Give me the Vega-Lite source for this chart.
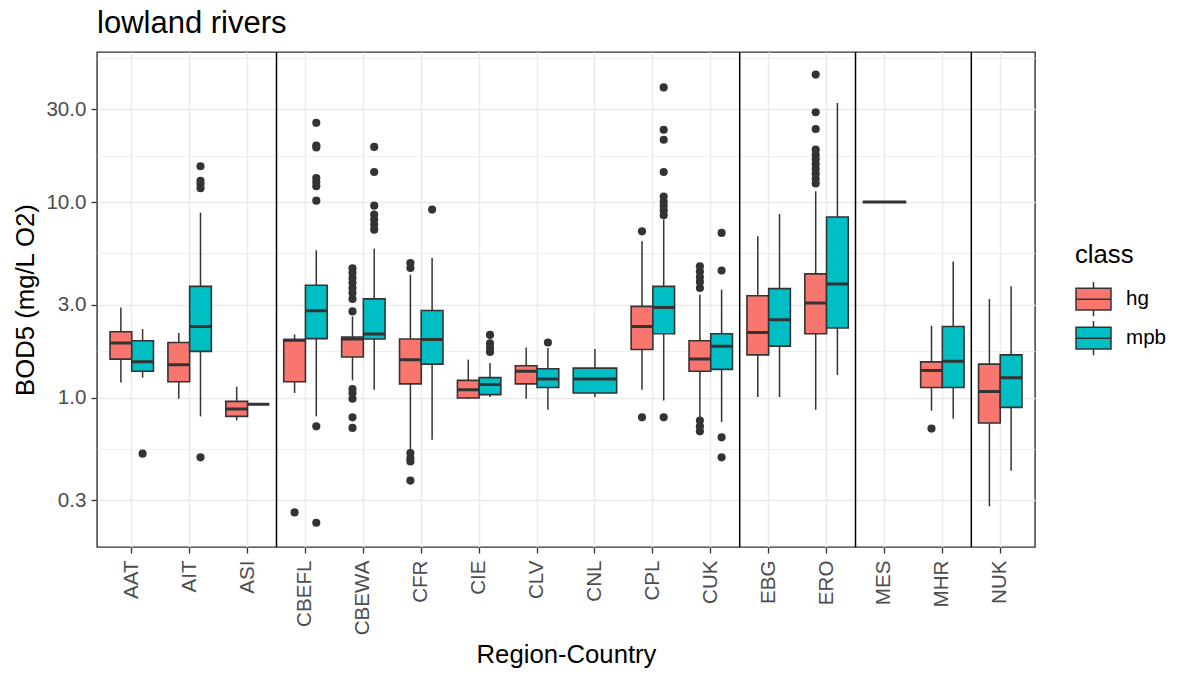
{
  "$schema": "https://vega.github.io/schema/vega-lite/v6.json",
  "width": 938,
  "height": 495,
  "autosize": "none",
  "padding": {"left": 97, "top": 52, "right": 144, "bottom": 126},
  "background": "white",
  "title": {
    "text": "lowland rivers",
    "anchor": "start",
    "frame": "group",
    "fontSize": 31,
    "fontWeight": "normal",
    "color": "#000000",
    "offset": 11
  },
  "config": {
    "font": "Liberation Sans",
    "view": {"stroke": "#333333", "strokeWidth": 1.4},
    "axis": {
      "domain": false,
      "tickColor": "#333333",
      "tickWidth": 1.3,
      "tickSize": 6,
      "labelColor": "#4D4D4D",
      "labelFontSize": 20.6,
      "titleFontSize": 25.7,
      "titleFontWeight": "normal",
      "titleColor": "#000000",
      "gridColor": "#EBEBEB",
      "gridWidth": 1.6
    }
  },
  "datasets": {
    "boxes": [
      {"region": "AAT", "class": "hg", "lower": 1.20, "q1": 1.58, "median": 1.91, "q3": 2.18, "upper": 2.90},
      {"region": "AAT", "class": "mpb", "lower": 1.27, "q1": 1.37, "median": 1.53, "q3": 1.96, "upper": 2.25},
      {"region": "AIT", "class": "hg", "lower": 0.99, "q1": 1.21, "median": 1.48, "q3": 1.92, "upper": 2.15},
      {"region": "AIT", "class": "mpb", "lower": 0.805, "q1": 1.73, "median": 2.32, "q3": 3.72, "upper": 8.86},
      {"region": "ASI", "class": "hg", "lower": 0.768, "q1": 0.805, "median": 0.879, "q3": 0.96, "upper": 1.14},
      {"region": "ASI", "class": "mpb", "lower": 0.928, "q1": 0.928, "median": 0.928, "q3": 0.928, "upper": 0.928},
      {"region": "CBEFL", "class": "hg", "lower": 1.06, "q1": 1.21, "median": 1.97, "q3": 1.99, "upper": 2.11},
      {"region": "CBEFL", "class": "mpb", "lower": 0.805, "q1": 2.01, "median": 2.79, "q3": 3.77, "upper": 5.69},
      {"region": "CBEWA", "class": "hg", "lower": 1.23, "q1": 1.62, "median": 2.00, "q3": 2.05, "upper": 2.61},
      {"region": "CBEWA", "class": "mpb", "lower": 1.10, "q1": 2.00, "median": 2.12, "q3": 3.21, "upper": 5.80},
      {"region": "CFR", "class": "hg", "lower": 0.533, "q1": 1.18, "median": 1.57, "q3": 2.00, "upper": 4.27},
      {"region": "CFR", "class": "mpb", "lower": 0.612, "q1": 1.49, "median": 1.99, "q3": 2.80, "upper": 5.20},
      {"region": "CIE", "class": "hg", "lower": 0.99, "q1": 1.00, "median": 1.10, "q3": 1.23, "upper": 1.57},
      {"region": "CIE", "class": "mpb", "lower": 1.01, "q1": 1.04, "median": 1.17, "q3": 1.27, "upper": 1.51},
      {"region": "CLV", "class": "hg", "lower": 0.99, "q1": 1.18, "median": 1.37, "q3": 1.46, "upper": 1.81},
      {"region": "CLV", "class": "mpb", "lower": 0.87, "q1": 1.13, "median": 1.25, "q3": 1.41, "upper": 1.80},
      {"region": "CNL", "class": "mpb", "lower": 1.01, "q1": 1.06, "median": 1.25, "q3": 1.42, "upper": 1.78},
      {"region": "CPL", "class": "hg", "lower": 1.10, "q1": 1.77, "median": 2.32, "q3": 2.94, "upper": 6.32},
      {"region": "CPL", "class": "mpb", "lower": 0.97, "q1": 2.13, "median": 2.90, "q3": 3.72, "upper": 8.16},
      {"region": "CUK", "class": "hg", "lower": 0.784, "q1": 1.37, "median": 1.58, "q3": 1.96, "upper": 3.37},
      {"region": "CUK", "class": "mpb", "lower": 0.754, "q1": 1.40, "median": 1.84, "q3": 2.13, "upper": 3.58},
      {"region": "EBG", "class": "hg", "lower": 1.01, "q1": 1.66, "median": 2.16, "q3": 3.33, "upper": 6.70},
      {"region": "EBG", "class": "mpb", "lower": 1.01, "q1": 1.84, "median": 2.51, "q3": 3.62, "upper": 8.72},
      {"region": "ERO", "class": "hg", "lower": 0.87, "q1": 2.13, "median": 3.06, "q3": 4.31, "upper": 11.4},
      {"region": "ERO", "class": "mpb", "lower": 1.31, "q1": 2.28, "median": 3.83, "q3": 8.42, "upper": 32.2},
      {"region": "MES", "class": "hg", "lower": 10.05, "q1": 10.05, "median": 10.05, "q3": 10.05, "upper": 10.05},
      {"region": "MHR", "class": "hg", "lower": 0.86, "q1": 1.13, "median": 1.38, "q3": 1.53, "upper": 2.34},
      {"region": "MHR", "class": "mpb", "lower": 0.784, "q1": 1.13, "median": 1.54, "q3": 2.32, "upper": 4.99},
      {"region": "NUK", "class": "hg", "lower": 0.279, "q1": 0.745, "median": 1.08, "q3": 1.49, "upper": 3.21},
      {"region": "NUK", "class": "mpb", "lower": 0.425, "q1": 0.895, "median": 1.27, "q3": 1.66, "upper": 3.72}
    ],
    "outliers": [
      {"region": "AAT", "class": "mpb", "value": 0.519},
      {"region": "AIT", "class": "mpb", "value": 15.3},
      {"region": "AIT", "class": "mpb", "value": 12.9},
      {"region": "AIT", "class": "mpb", "value": 12.4},
      {"region": "AIT", "class": "mpb", "value": 11.8},
      {"region": "AIT", "class": "mpb", "value": 0.497},
      {"region": "CBEFL", "class": "hg", "value": 0.26},
      {"region": "CBEFL", "class": "mpb", "value": 25.5},
      {"region": "CBEFL", "class": "mpb", "value": 19.5},
      {"region": "CBEFL", "class": "mpb", "value": 19.1},
      {"region": "CBEFL", "class": "mpb", "value": 13.3},
      {"region": "CBEFL", "class": "mpb", "value": 12.7},
      {"region": "CBEFL", "class": "mpb", "value": 12.1},
      {"region": "CBEFL", "class": "mpb", "value": 10.2},
      {"region": "CBEFL", "class": "mpb", "value": 0.716},
      {"region": "CBEFL", "class": "mpb", "value": 0.230},
      {"region": "CBEWA", "class": "hg", "value": 2.77},
      {"region": "CBEWA", "class": "hg", "value": 4.60},
      {"region": "CBEWA", "class": "hg", "value": 4.36},
      {"region": "CBEWA", "class": "hg", "value": 4.10},
      {"region": "CBEWA", "class": "hg", "value": 3.87},
      {"region": "CBEWA", "class": "hg", "value": 3.65},
      {"region": "CBEWA", "class": "hg", "value": 3.44},
      {"region": "CBEWA", "class": "hg", "value": 3.21},
      {"region": "CBEWA", "class": "hg", "value": 1.11},
      {"region": "CBEWA", "class": "hg", "value": 1.06},
      {"region": "CBEWA", "class": "hg", "value": 0.99},
      {"region": "CBEWA", "class": "hg", "value": 0.796},
      {"region": "CBEWA", "class": "hg", "value": 0.703},
      {"region": "CBEWA", "class": "mpb", "value": 19.2},
      {"region": "CBEWA", "class": "mpb", "value": 14.3},
      {"region": "CBEWA", "class": "mpb", "value": 9.62},
      {"region": "CBEWA", "class": "mpb", "value": 8.65},
      {"region": "CBEWA", "class": "mpb", "value": 8.16},
      {"region": "CBEWA", "class": "mpb", "value": 7.70},
      {"region": "CBEWA", "class": "mpb", "value": 7.25},
      {"region": "CFR", "class": "hg", "value": 4.90},
      {"region": "CFR", "class": "hg", "value": 4.62},
      {"region": "CFR", "class": "hg", "value": 0.523},
      {"region": "CFR", "class": "hg", "value": 0.493},
      {"region": "CFR", "class": "hg", "value": 0.474},
      {"region": "CFR", "class": "hg", "value": 0.378},
      {"region": "CFR", "class": "mpb", "value": 9.18},
      {"region": "CIE", "class": "mpb", "value": 2.10},
      {"region": "CIE", "class": "mpb", "value": 1.90},
      {"region": "CIE", "class": "mpb", "value": 1.80},
      {"region": "CIE", "class": "mpb", "value": 1.72},
      {"region": "CLV", "class": "mpb", "value": 1.92},
      {"region": "CPL", "class": "hg", "value": 7.11},
      {"region": "CPL", "class": "hg", "value": 0.796},
      {"region": "CPL", "class": "mpb", "value": 38.7},
      {"region": "CPL", "class": "mpb", "value": 23.5},
      {"region": "CPL", "class": "mpb", "value": 20.9},
      {"region": "CPL", "class": "mpb", "value": 14.3},
      {"region": "CPL", "class": "mpb", "value": 10.7},
      {"region": "CPL", "class": "mpb", "value": 10.1},
      {"region": "CPL", "class": "mpb", "value": 9.6},
      {"region": "CPL", "class": "mpb", "value": 9.1},
      {"region": "CPL", "class": "mpb", "value": 8.6},
      {"region": "CPL", "class": "mpb", "value": 0.796},
      {"region": "CUK", "class": "hg", "value": 4.71},
      {"region": "CUK", "class": "hg", "value": 4.43},
      {"region": "CUK", "class": "hg", "value": 4.15},
      {"region": "CUK", "class": "hg", "value": 3.92},
      {"region": "CUK", "class": "hg", "value": 3.65},
      {"region": "CUK", "class": "hg", "value": 0.766},
      {"region": "CUK", "class": "hg", "value": 0.716},
      {"region": "CUK", "class": "hg", "value": 0.675},
      {"region": "CUK", "class": "mpb", "value": 6.98},
      {"region": "CUK", "class": "mpb", "value": 4.48},
      {"region": "CUK", "class": "mpb", "value": 0.629},
      {"region": "CUK", "class": "mpb", "value": 0.497},
      {"region": "ERO", "class": "hg", "value": 45.0},
      {"region": "ERO", "class": "hg", "value": 28.9},
      {"region": "ERO", "class": "hg", "value": 23.7},
      {"region": "ERO", "class": "hg", "value": 18.6},
      {"region": "ERO", "class": "hg", "value": 17.5},
      {"region": "ERO", "class": "hg", "value": 16.6},
      {"region": "ERO", "class": "hg", "value": 15.7},
      {"region": "ERO", "class": "hg", "value": 14.8},
      {"region": "ERO", "class": "hg", "value": 14.0},
      {"region": "ERO", "class": "hg", "value": 13.2},
      {"region": "ERO", "class": "hg", "value": 12.5},
      {"region": "MHR", "class": "hg", "value": 0.697}
    ],
    "separators": [
      {"region": "CBEFL"},
      {"region": "EBG"},
      {"region": "MES"},
      {"region": "NUK"}
    ]
  },
  "layer": [
    {
      "data": {"name": "boxes"},
      "transform": [
        {"joinaggregate": [{"op": "count", "as": "n"}], "groupby": ["region"]},
        {"filter": "datum.n == 2"}
      ],
      "mark": {"type": "rule", "color": "#333333", "strokeWidth": 1.5},
      "encoding": {
        "x": {
          "field": "region",
          "type": "nominal",
          "sort": ["AAT", "AIT", "ASI", "CBEFL", "CBEWA", "CFR", "CIE", "CLV", "CNL", "CPL", "CUK", "EBG", "ERO", "MES", "MHR", "NUK"],
          "scale": {"type": "band", "paddingInner": 0, "paddingOuter": 0.1},
          "axis": {
            "title": "Region-Country",
            "labelAngle": -90,
            "grid": true,
            "bandPosition": 0.5,
            "labelPadding": 7,
            "titlePadding": 8
          }
        },
        "xOffset": {
          "field": "class",
          "type": "nominal",
          "scale": {"domain": ["hg", "mpb"], "paddingInner": 0, "paddingOuter": 0.3333}
        },
        "y": {
          "field": "lower",
          "type": "quantitative",
          "scale": {"type": "log", "domain": [0.173, 58.7], "nice": false},
          "axis": {
            "orient": "left",
            "values": [0.5477, 1.7321, 5.4772, 17.3205, 54.7723],
            "grid": true,
            "gridWidth": 0.8,
            "labels": false,
            "ticks": false,
            "domain": false,
            "title": null,
            "minExtent": 0,
            "maxExtent": 0
          }
        },
        "y2": {"field": "upper"}
      }
    },
    {
      "data": {"name": "boxes"},
      "transform": [
        {"joinaggregate": [{"op": "count", "as": "n"}], "groupby": ["region"]},
        {"filter": "datum.n == 2"}
      ],
      "mark": {"type": "bar", "stroke": "#333333", "strokeWidth": 1.6},
      "encoding": {
        "x": {"field": "region", "type": "nominal"},
        "xOffset": {"field": "class", "type": "nominal"},
        "y": {
          "field": "q1",
          "type": "quantitative",
          "axis": {
            "orient": "left",
            "values": [0.3, 1, 3, 10, 30],
            "format": ".1f",
            "title": "BOD5 (mg/L O2)",
            "grid": true,
            "labelPadding": 5,
            "titlePadding": 7
          }
        },
        "y2": {"field": "q3"},
        "color": {
          "field": "class",
          "type": "nominal",
          "scale": {"domain": ["hg", "mpb"], "range": ["#F8766D", "#00BFC4"]},
          "legend": {
            "title": "class",
            "orient": "none",
            "legendX": 978,
            "legendY": 191,
            "symbolType": "M-1,-0.62H1V0.62H-1Z M-1,0H1 M0,-0.62V-0.98 M0,0.62V0.98",
            "symbolSize": 1225,
            "symbolStrokeColor": "#333333",
            "symbolStrokeWidth": 1.5,
            "symbolOpacity": 1,
            "labelFontSize": 20.6,
            "labelColor": "#000000",
            "titleFontSize": 25.7,
            "titleFontWeight": "normal",
            "titleColor": "#000000",
            "labelOffset": 14,
            "rowPadding": -2,
            "titlePadding": 12
          }
        }
      }
    },
    {
      "data": {"name": "boxes"},
      "transform": [
        {"joinaggregate": [{"op": "count", "as": "n"}], "groupby": ["region"]},
        {"filter": "datum.n == 2"}
      ],
      "mark": {"type": "bar", "fill": "transparent", "stroke": "#333333", "strokeWidth": 3},
      "encoding": {
        "x": {"field": "region", "type": "nominal"},
        "xOffset": {"field": "class", "type": "nominal"},
        "y": {"field": "median", "type": "quantitative", "axis": null},
        "y2": {"field": "median"}
      }
    },
    {
      "data": {"name": "boxes"},
      "transform": [
        {"joinaggregate": [{"op": "count", "as": "n"}], "groupby": ["region"]},
        {"filter": "datum.n == 1"}
      ],
      "mark": {"type": "rule", "color": "#333333", "strokeWidth": 1.5},
      "encoding": {
        "x": {"field": "region", "type": "nominal"},
        "y": {"field": "lower", "type": "quantitative", "axis": null},
        "y2": {"field": "upper"}
      }
    },
    {
      "data": {"name": "boxes"},
      "transform": [
        {"joinaggregate": [{"op": "count", "as": "n"}], "groupby": ["region"]},
        {"filter": "datum.n == 1"}
      ],
      "mark": {"type": "bar", "stroke": "#333333", "strokeWidth": 1.6, "width": {"band": 0.75}},
      "encoding": {
        "x": {"field": "region", "type": "nominal"},
        "y": {"field": "q1", "type": "quantitative", "axis": null},
        "y2": {"field": "q3"},
        "color": {"field": "class", "type": "nominal"}
      }
    },
    {
      "data": {"name": "boxes"},
      "transform": [
        {"joinaggregate": [{"op": "count", "as": "n"}], "groupby": ["region"]},
        {"filter": "datum.n == 1"}
      ],
      "mark": {"type": "bar", "fill": "transparent", "stroke": "#333333", "strokeWidth": 3, "width": {"band": 0.75}},
      "encoding": {
        "x": {"field": "region", "type": "nominal"},
        "y": {"field": "median", "type": "quantitative", "axis": null},
        "y2": {"field": "median"}
      }
    },
    {
      "data": {"name": "outliers"},
      "mark": {"type": "point", "filled": true, "color": "#333333", "opacity": 1, "size": 66},
      "encoding": {
        "x": {"field": "region", "type": "nominal"},
        "xOffset": {"field": "class", "type": "nominal"},
        "y": {"field": "value", "type": "quantitative", "axis": null}
      }
    },
    {
      "data": {"name": "separators"},
      "mark": {"type": "rule", "color": "#000000", "strokeWidth": 1.5},
      "encoding": {
        "x": {"field": "region", "type": "nominal", "bandPosition": 0}
      }
    }
  ],
  "resolve": {"axis": {"y": "independent"}}
}
